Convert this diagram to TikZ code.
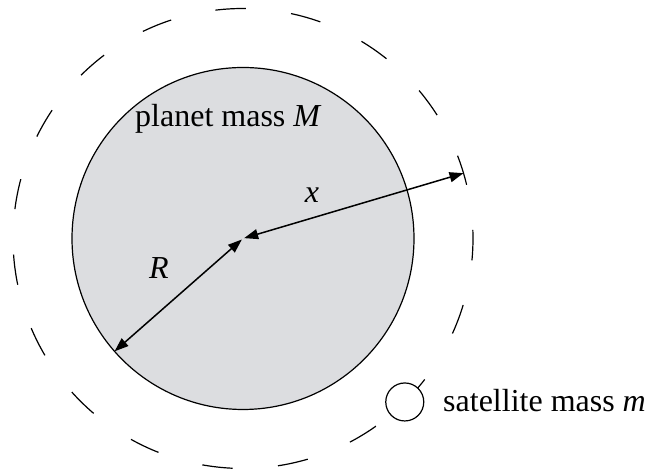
\documentclass[tikz,border=0pt]{standalone}
\usepackage{fontspec}
\setmainfont{Liberation Serif}
\usetikzlibrary{arrows.meta,calc}
\definecolor{planetgray}{RGB}{220,221,224}
\begin{document}
\begin{tikzpicture}[x=1pt,y=1pt,
  lbl/.style={inner sep=0pt,font=\fontsize{32}{38}\selectfont},
  orbitdash/.style={line width=1.2pt},
  dimarrow/.style={line width=1.5pt,{Triangle[length=14pt,width=10pt]}-{Triangle[length=14pt,width=10pt]}}]
\useasboundingbox (0,0) rectangle (646,470);
\coordinate (c) at (243,231.5);
% planet
\node[circle,draw,line width=1.2pt,fill=planetgray,minimum size=342pt,inner sep=0pt] (planet) at (c) {};
% orbit dashes
\foreach \k in {0,...,18}{
  \ifnum\k=7\relax\else
  \draw[orbitdash] ($(c)+({89.3-18.95*\k}:230)$) arc[start angle={89.3-18.95*\k}, end angle={96.9-18.95*\k}, radius=230];
  \fi
}
\draw[orbitdash] ($(c)+(-44:230)$) arc[start angle=-44, end angle=-37.8, radius=230];
% satellite
\node[circle,draw,line width=1.2pt,fill=white,minimum size=38pt,inner sep=0pt] (sat) at ($(c)+(-45.3:230)$) {};
% dimension arrows
\coordinate (xend) at ($(c)+(16.5:230)$);
\coordinate (rend) at ($(c)+(221.3:171)$);
\draw[dimarrow] ($(c)+(16.5:1.2)$) -- (xend);
\draw[dimarrow] ($(c)+(221.3:1.5)$) -- (rend);
% labels
\node[lbl,anchor=base west] (plabel) at (135,343) {planet mass \textit{M}};
\node[lbl,anchor=base west] (slabel) at (443,58) {satellite mass \textit{m}};
\node[lbl,anchor=base] (xlabel) at (312,267) {\textit{x}};
\node[lbl,anchor=base] (rlabel) at (159,191) {\textit{R}};
\end{tikzpicture}
\end{document}
